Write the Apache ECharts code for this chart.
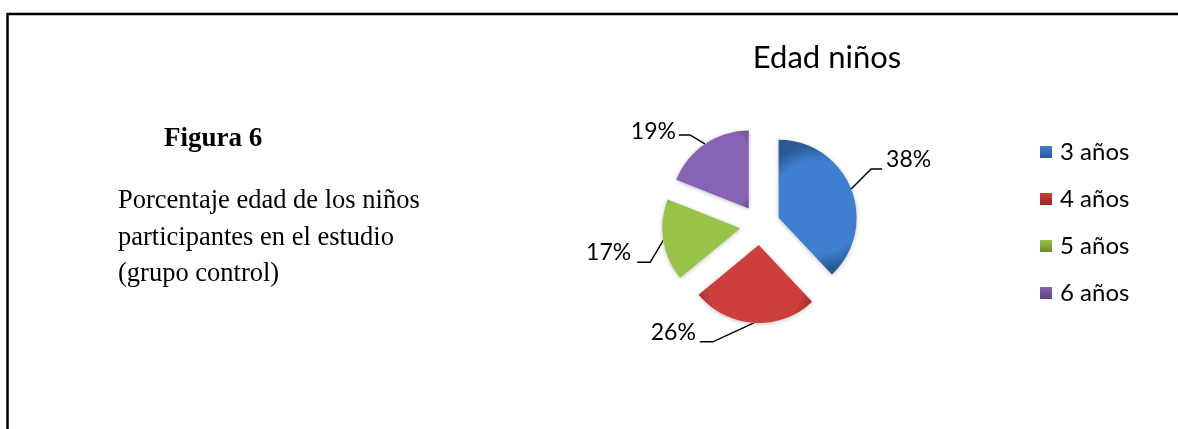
<!DOCTYPE html>
<html>
<head>
<meta charset="utf-8">
<script src="https://cdn.jsdelivr.net/npm/echarts@6/dist/echarts.min.js"></script>
<style>
html,body{margin:0;padding:0;background:#fff;}
#chart{width:1178px;height:429px;}
</style>
</head>
<body>
<div id="chart"></div>
<script>
const chartTitle = 'Edad niños';
const categories = ['3 años', '4 años', '5 años', '6 años'];
const values = [38, 26, 17, 19];
const figureTitle = 'Figura 6';
const figureCaption = ['Porcentaje edad de los niños', 'participantes en el estudio', '(grupo control)'];
const colors = ['#3f7fcf', '#cc3f3c', '#99c24a', '#8862b5'];
const darkColors = ['#2b5a97', '#952a28', '#6a8a2e', '#5e437f'];

// leader-line shape per slice: [bend dx, bend dy, horizontal run, text dy, text gap]
const leaderShapes = [[20, -20, 11, -9, 4], [-41, 19, -13, -9, 4], [-13, 22, -13, -10, 6], [-15, -9, -11, -3, 3]];

const chart = echarts.init(document.getElementById('chart'), null, {renderer: 'canvas'});

function shade(i) {
  return new echarts.graphic.RadialGradient(0.5, 0.5, 0.8, [
    {offset: 0, color: colors[i]},
    {offset: 0.75, color: colors[i]},
    {offset: 1, color: darkColors[i]}
  ]);
}
function iconShade(i) {
  return new echarts.graphic.LinearGradient(0, 0, 0, 1, [
    {offset: 0, color: colors[i]},
    {offset: 1, color: darkColors[i]}
  ]);
}

const option = {
  backgroundColor: '#fff',
  animation: false,
  color: colors,
  title: [
    {text: chartTitle, left: 822, top: 37, textAlign: 'center',
     textStyle: {fontFamily: 'Lato', fontSize: 31, fontWeight: 'normal', color: '#000'}},
    {text: figureTitle, left: 159, top: 121,
     textStyle: {fontFamily: 'Liberation Serif', fontSize: 27, fontWeight: 'bold', color: '#000'}},
    {text: figureCaption.join('\n'), left: 113, top: 178,
     textStyle: {fontFamily: 'Liberation Serif', fontSize: 26.5, fontWeight: 'normal', color: '#000', lineHeight: 36.5}}
  ],
  legend: {
    orient: 'vertical',
    left: 1035,
    top: 135,
    itemWidth: 12,
    itemHeight: 12,
    itemGap: 23,
    icon: 'rect',
    textStyle: {fontFamily: 'Lato', fontSize: 24, color: '#000', padding: [0, 0, 0, 3]},
    data: categories.map((c, i) => ({name: c, itemStyle: {color: iconShade(i)}}))
  },
  graphic: [
    {type: 'line', shape: {x1: 7, y1: 14, x2: 1178, y2: 14}, style: {stroke: '#000', lineWidth: 2.5}},
    {type: 'line', shape: {x1: 7.5, y1: 13, x2: 7.5, y2: 429}, style: {stroke: '#000', lineWidth: 2.5}}
  ],
  series: [{
    type: 'pie',
    center: [760, 225],
    radius: 78,
    startAngle: 90,
    clockwise: true,
    selectedMode: 'multiple',
    selectedOffset: 20,
    emphasis: {disabled: true},
    itemStyle: {borderWidth: 0, shadowBlur: 4, shadowColor: 'rgba(0,0,0,0.25)', shadowOffsetY: 1},
    label: {
      show: true,
      position: 'outside',
      formatter: '{c}%',
      fontFamily: 'Lato',
      fontSize: 23,
      color: '#000'
    },
    labelLine: {show: true, length: 18, length2: 12, lineStyle: {color: '#000', width: 1.5}},
    labelLayout: function (params) {
      const s = leaderShapes[params.dataIndex];
      const pts = params.labelLinePoints;
      if (!pts) return {};
      const r = params.labelRect;
      const p0 = pts[0];
      const p1 = [p0[0] + s[0], p0[1] + s[1]];
      const p2 = [p1[0] + s[2], p1[1]];
      const right = s[2] > 0;
      const targetLeft = right ? p2[0] + s[4] : p2[0] - s[4] - r.width;
      const targetCy = p2[1] + s[3];
      return {
        dx: targetLeft - r.x,
        dy: targetCy - (r.y + r.height / 2),
        labelLinePoints: [p0, p1, p2]
      };
    },
    data: categories.map((c, i) => ({
      name: c, value: values[i], selected: true,
      itemStyle: {color: shade(i)}
    }))
  }]
};
chart.setOption(option);
</script>
</body>
</html>
